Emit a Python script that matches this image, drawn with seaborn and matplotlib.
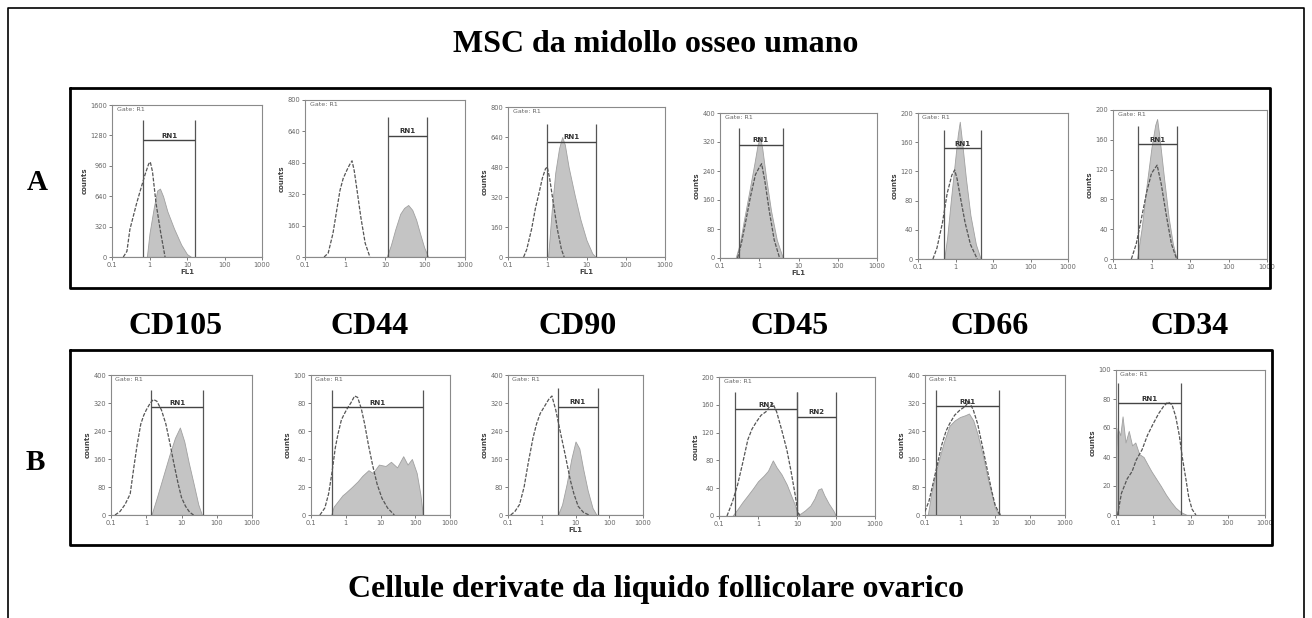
import matplotlib
matplotlib.use("Agg")
import matplotlib.pyplot as plt
import seaborn as sns
import numpy as np
from matplotlib.lines import Line2D

sns.set_theme(style="white")
plt.rcParams['font.family'] = ['DejaVu Sans']

W, H = 1312, 618

# ---------------- data (FL1 position, counts) ----------------
a1_ctrl_x = [0.2, 0.25, 0.3, 0.45, 0.55, 0.75, 0.95, 1.05, 1.2, 1.5, 2.0, 2.6]
a1_ctrl_y = [0, 60, 290, 560, 680, 860, 980, 1000, 900, 560, 250, 0]
a1_test_x = [0.85, 1.0, 1.3, 1.6, 1.9, 2.3, 3.0, 4.5, 7, 10, 13]
a1_test_y = [0, 250, 520, 700, 720, 640, 480, 300, 130, 30, 0]

a2_ctrl_x = [0.3, 0.38, 0.5, 0.6, 0.75, 0.9, 1.1, 1.3, 1.5, 1.7, 2.0, 2.5, 3.2, 4.2]
a2_ctrl_y = [0, 20, 120, 220, 340, 400, 440, 470, 490, 440, 340, 200, 70, 0]
a2_test_x = [11, 14, 18, 24, 30, 38, 48, 60, 75, 95, 120]
a2_test_y = [0, 60, 140, 220, 250, 265, 240, 190, 120, 50, 0]

a3_ctrl_x = [0.25, 0.3, 0.4, 0.5, 0.6, 0.75, 0.9, 1.0, 1.15, 1.4, 1.8, 2.3, 2.7]
a3_ctrl_y = [0, 40, 150, 260, 330, 420, 470, 480, 420, 300, 150, 40, 0]
a3_test_x = [1.05, 1.3, 1.6, 2.0, 2.4, 2.8, 3.5, 5, 7, 10, 14, 17]
a3_test_y = [0, 250, 450, 580, 640, 600, 480, 330, 200, 90, 20, 0]

a4_ctrl_x = [0.28, 0.35, 0.45, 0.6, 0.8, 1.0, 1.15, 1.4, 1.8, 2.4, 3.3]
a4_ctrl_y = [0, 40, 100, 170, 230, 250, 260, 210, 130, 50, 0]
a4_test_x = [0.25, 0.32, 0.4, 0.55, 0.75, 0.9, 1.05, 1.2, 1.5, 2.0, 2.8, 4.0]
a4_test_y = [0, 40, 100, 180, 260, 310, 335, 300, 220, 130, 50, 0]

a5_ctrl_x = [0.25, 0.32, 0.45, 0.6, 0.8, 0.95, 1.1, 1.4, 1.8, 2.5, 3.8]
a5_ctrl_y = [0, 15, 50, 90, 115, 122, 110, 80, 50, 20, 0]
a5_test_x = [0.5, 0.6, 0.75, 0.95, 1.15, 1.3, 1.5, 1.9, 2.5, 3.5, 4.7]
a5_test_y = [0, 30, 80, 130, 170, 188, 160, 110, 60, 20, 0]

a6_ctrl_x = [0.3, 0.4, 0.55, 0.75, 1.0, 1.4, 1.8, 2.4, 3.3, 4.5]
a6_ctrl_y = [0, 20, 55, 90, 115, 126, 100, 60, 20, 0]
a6_test_x = [0.42, 0.55, 0.75, 1.0, 1.25, 1.4, 1.6, 2.1, 2.8, 3.6, 4.5]
a6_test_y = [0, 40, 100, 150, 180, 188, 165, 110, 55, 20, 0]

b1_ctrl_x = [0.13, 0.18, 0.25, 0.35, 0.45, 0.55, 0.7, 0.85, 1.0, 1.3, 1.6, 2.0, 2.7, 3.6, 4.8, 6, 8, 10, 13, 17, 22]
b1_ctrl_y = [0, 10, 30, 60, 140, 200, 260, 285, 300, 320, 330, 325, 300, 260, 200, 150, 90, 50, 25, 8, 0]
b1_test_x = [1.4, 2.0, 3.0, 4.5, 6.5, 9, 12, 16, 22, 30, 38]
b1_test_y = [0, 50, 110, 170, 220, 250, 210, 150, 90, 30, 0]

b2_ctrl_x = [0.18, 0.25, 0.32, 0.4, 0.5, 0.6, 0.75, 0.9, 1.1, 1.4, 1.8, 2.2, 2.8, 3.5, 4.5, 6, 8, 11, 16, 25]
b2_ctrl_y = [0, 5, 15, 30, 48, 58, 68, 72, 76, 80, 85, 84, 76, 65, 50, 35, 22, 12, 5, 0]
b2_test_x = [0.38, 0.45, 0.6, 0.8, 1.0, 1.5, 2.2, 3, 4.5, 6, 9, 14, 20, 30, 45, 60, 80, 110, 140, 165]
b2_test_y = [0, 6, 10, 14, 16, 20, 24, 28, 32, 30, 36, 35, 38, 34, 42, 36, 40, 30, 15, 0]

b3_ctrl_x = [0.12, 0.16, 0.22, 0.3, 0.4, 0.55, 0.7, 0.9, 1.2, 1.6, 2.0, 2.6, 3.5, 5, 7, 9, 12, 17, 25]
b3_ctrl_y = [0, 10, 30, 80, 150, 220, 260, 290, 310, 330, 340, 300, 240, 170, 100, 60, 25, 8, 0]
b3_test_x = [3, 4, 5.5, 7.5, 10, 13, 17, 23, 32, 42]
b3_test_y = [0, 30, 90, 160, 210, 190, 130, 70, 20, 0]

b4_ctrl_x = [0.16, 0.22, 0.3, 0.4, 0.55, 0.7, 0.9, 1.2, 1.6, 2.0, 2.4, 3.0, 4.0, 5.5, 7, 9, 10.5, 12]
b4_ctrl_y = [0, 20, 45, 75, 110, 125, 135, 145, 150, 158, 162, 150, 125, 95, 65, 30, 5, 0]
b4_test_x = [0.22, 0.3, 0.4, 0.55, 0.75, 1.0, 1.4, 1.8, 2.4, 3.0, 4, 5.5, 7, 9, 10, 12, 16, 22, 28, 35, 42, 50, 65, 85, 100]
b4_test_y = [0, 10, 20, 30, 40, 50, 58, 65, 80, 70, 60, 45, 30, 15, 5, 3, 8, 15, 25, 38, 40, 30, 18, 8, 0]

b5_ctrl_x = [0.1, 0.13, 0.17, 0.22, 0.3, 0.4, 0.5, 0.7, 1.0, 1.4, 1.8, 2.4, 3.2, 4.5, 6, 8, 10, 13, 15]
b5_ctrl_y = [10, 40, 90, 140, 200, 240, 260, 285, 300, 310, 325, 300, 260, 190, 130, 70, 30, 5, 0]
b5_test_x = [0.12, 0.15, 0.2, 0.27, 0.35, 0.5, 0.7, 1.0, 1.4, 1.8, 2.4, 3.2, 4.5, 6, 8, 10, 13]
b5_test_y = [0, 60, 120, 170, 210, 255, 270, 280, 285, 290, 270, 230, 170, 110, 60, 20, 0]

b6_ctrl_x = [0.11, 0.14, 0.2, 0.27, 0.35, 0.5, 0.7, 1.0, 1.4, 1.9, 2.5, 3.2, 4, 5, 6, 7.5, 9, 11, 14]
b6_ctrl_y = [0, 15, 25, 30, 38, 45, 55, 63, 70, 75, 78, 76, 68, 55, 40, 25, 12, 4, 0]
b6_test_x = [0.1, 0.11, 0.13, 0.15, 0.18, 0.22, 0.27, 0.33, 0.42, 0.55, 0.7, 0.9, 1.2, 1.6, 2.2, 3, 4, 5.5, 8]
b6_test_y = [45, 60, 55, 68, 50, 58, 48, 50, 42, 40, 35, 30, 25, 20, 14, 9, 5, 2, 0]

x_ticks = [0.1, 1, 10, 100, 1000]
x_tick_labels = ["0.1", "1", "10", "100", "1000"]
markers = ["CD105", "CD44", "CD90", "CD45", "CD66", "CD34"]

panels = [
    # row A
    dict(box=(112, 105, 262, 257), cx=a1_ctrl_x, cy=a1_ctrl_y, tx=a1_test_x, ty=a1_test_y,
         ymax=1600, gates=[("RN1", 0.68, 16.6, 1230, 1440)], xlabel="FL1"),
    dict(box=(305, 100, 465, 257), cx=a2_ctrl_x, cy=a2_ctrl_y, tx=a2_test_x, ty=a2_test_y,
         ymax=800, gates=[("RN1", 12, 110, 617, 715)], xlabel=""),
    dict(box=(508, 107, 665, 257), cx=a3_ctrl_x, cy=a3_ctrl_y, tx=a3_test_x, ty=a3_test_y,
         ymax=800, gates=[("RN1", 1.0, 17, 614, 711)], xlabel="FL1"),
    dict(box=(720, 113, 877, 258), cx=a4_ctrl_x, cy=a4_ctrl_y, tx=a4_test_x, ty=a4_test_y,
         ymax=400, gates=[("RN1", 0.3, 4.0, 313, 359)], xlabel="FL1"),
    dict(box=(918, 113, 1068, 259), cx=a5_ctrl_x, cy=a5_ctrl_y, tx=a5_test_x, ty=a5_test_y,
         ymax=200, gates=[("RN1", 0.5, 4.8, 152, 177)], xlabel=""),
    dict(box=(1113, 110, 1267, 259), cx=a6_ctrl_x, cy=a6_ctrl_y, tx=a6_test_x, ty=a6_test_y,
         ymax=200, gates=[("RN1", 0.45, 4.5, 154, 178)], xlabel=""),
    # row B
    dict(box=(111, 375, 252, 515), cx=b1_ctrl_x, cy=b1_ctrl_y, tx=b1_test_x, ty=b1_test_y,
         ymax=400, gates=[("RN1", 1.4, 40, 308, 357)], xlabel=""),
    dict(box=(311, 375, 450, 515), cx=b2_ctrl_x, cy=b2_ctrl_y, tx=b2_test_x, ty=b2_test_y,
         ymax=100, gates=[("RN1", 0.4, 165, 77, 89)], xlabel=""),
    dict(box=(508, 375, 643, 515), cx=b3_ctrl_x, cy=b3_ctrl_y, tx=b3_test_x, ty=b3_test_y,
         ymax=400, gates=[("RN1", 3.0, 45, 310, 362)], xlabel="FL1"),
    dict(box=(719, 377, 875, 516), cx=b4_ctrl_x, cy=b4_ctrl_y, tx=b4_test_x, ty=b4_test_y,
         ymax=200, gates=[("RN1", 0.26, 10, 154, 179), ("RN2", 10, 100, 143, 179)], xlabel=""),
    dict(box=(925, 375, 1065, 515), cx=b5_ctrl_x, cy=b5_ctrl_y, tx=b5_test_x, ty=b5_test_y,
         ymax=400, gates=[("RN1", 0.2, 13, 311, 357)], xlabel=""),
    dict(box=(1116, 370, 1265, 515), cx=b6_ctrl_x, cy=b6_ctrl_y, tx=b6_test_x, ty=b6_test_y,
         ymax=100, gates=[("RN1", 0.11, 5.4, 77, 91)], xlabel=""),
]

fig = plt.figure(figsize=(W / 100, H / 100), dpi=100)
fig.patch.set_facecolor("white")

def fx(x):
    return x / W

def fy(y):
    return 1 - y / H

for p in panels:
    x0, y0, x1, y1 = p["box"]
    ax = fig.add_axes([fx(x0), fy(y1), (x1 - x0) / W, (y1 - y0) / H])
    ax.set_xscale("log")
    ax.set_xlim(0.1, 1000)
    ax.set_ylim(0, p["ymax"])
    ax.fill_between(p["tx"], p["ty"], 0, color="#c4c4c4", edgecolor="#a0a0a0", lw=0.6, zorder=2)
    sns.lineplot(x=p["cx"], y=p["cy"], ax=ax, color="#555555", lw=0.9,
                 linestyle=(0, (3, 1.2)), sort=False, zorder=3)
    ax.plot([0.1, 1000], [0, 0], color="#555555", lw=0.8, zorder=3)
    for name, lo, hi, lev, top in p["gates"]:
        ax.vlines([lo, hi], 0, top, color="#555555", lw=0.9, zorder=4)
        ax.hlines(lev, lo, hi, color="#444444", lw=1.0, zorder=4)
        ax.text(np.sqrt(lo * hi), lev + p["ymax"] * 0.01, name, ha="center", va="bottom",
                fontsize=5, fontweight="bold", color="#333333")
    ax.text(0.03, 0.985, "Gate: R1", transform=ax.transAxes, ha="left", va="top",
            fontsize=4.6, color="#666666")
    ax.set_xticks(x_ticks)
    ax.set_xticklabels(x_tick_labels)
    ax.minorticks_off()
    yt = np.linspace(0, p["ymax"], 6)
    ax.set_yticks(yt)
    ax.set_yticklabels([str(int(v)) for v in yt])
    ax.tick_params(axis="both", labelsize=4.8, colors="#666666", length=2, width=0.6, pad=1.5,
                   left=True, bottom=True)
    for s in ax.spines.values():
        s.set_color("#8a8a8a")
        s.set_linewidth(0.8)
    ax.set_ylabel("counts", fontsize=5, fontweight="bold", color="#444444", labelpad=2)
    if p["xlabel"]:
        ax.set_xlabel(p["xlabel"], fontsize=5, fontweight="bold", color="#444444", labelpad=1)
    else:
        ax.set_xlabel("")
    ax.set_facecolor("white")

def seg(xs, ys, lw):
    fig.add_artist(Line2D([fx(v) for v in xs], [fy(v) for v in ys], color="black", lw=lw,
                          transform=fig.transFigure))

seg([8, 8, 1304, 1304], [618, 8, 8, 618], 1.2)
seg([70, 1270, 1270, 70, 70], [88, 88, 288, 288, 88], 2.0)
seg([70, 1272, 1272, 70, 70], [350, 350, 545, 545, 350], 2.0)

serif = ["Liberation Serif", "DejaVu Serif"]
fig.text(fx(656), fy(45), "MSC da midollo osseo umano", ha="center", va="center",
         fontsize=23, fontweight="bold", family=serif, color="black")
fig.text(fx(656), fy(590), "Cellule derivate da liquido follicolare ovarico", ha="center",
         va="center", fontsize=23, fontweight="bold", family=serif, color="black")
fig.text(fx(37), fy(183), "A", ha="center", va="center", fontsize=21, fontweight="bold",
         family=serif, color="black")
fig.text(fx(35), fy(462), "B", ha="center", va="center", fontsize=21, fontweight="bold",
         family=serif, color="black")
for m, cx in zip(markers, [176, 370, 578, 790, 990, 1190]):
    fig.text(fx(cx), fy(327), m, ha="center", va="center", fontsize=23, fontweight="bold",
             family=serif, color="black")

fig.savefig("out.png", dpi=100, facecolor="white")
